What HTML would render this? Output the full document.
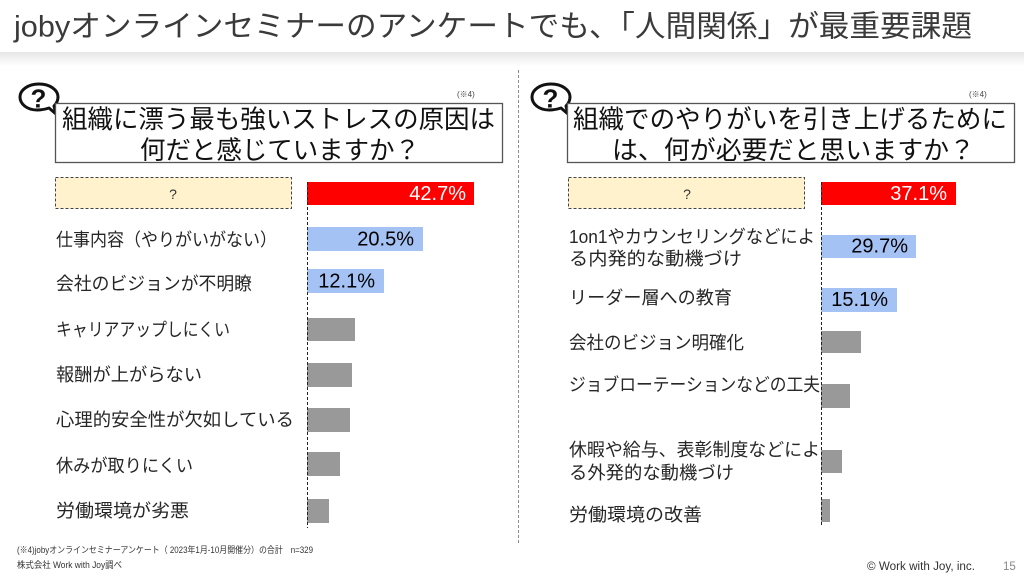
<!DOCTYPE html>
<html><head><meta charset="utf-8">
<style>
html,body{margin:0;padding:0;background:#fff;}
svg{display:block;}
text{font-family:"Liberation Sans","Noto Sans CJK JP",sans-serif;}
</style></head>
<body>
<svg width="1024" height="576" viewBox="0 0 1024 576" xmlns="http://www.w3.org/2000/svg">
<defs>
<linearGradient id="sh" x1="0" y1="0" x2="0" y2="1">
<stop offset="0" stop-color="#e6e6e6"/>
<stop offset="1" stop-color="#ffffff"/>
</linearGradient>
</defs>
<rect width="1024" height="576" fill="#fff"/>
<!-- header -->
<rect x="0" y="52" width="1024" height="14" fill="url(#sh)"/>
<text x="14" y="27" font-size="30" fill="#3a3a3a" dominant-baseline="central" textLength="958" lengthAdjust="spacingAndGlyphs">jobyオンラインセミナーのアンケートでも、「人間関係」が最重要課題</text>

<!-- separator -->
<line x1="518.5" y1="70" x2="518.5" y2="543" stroke="#8c8c8c" stroke-width="1" stroke-dasharray="3,2"/>

<!-- LEFT -->
<g>
<!-- bubble icon -->
<path d="M39,84 C28,84 20,90 20,97 C20,104 27,110 37,110 C42,110 46,109 49,108 L56,114 L54,106 C57,103 58,100 58,97 C58,90 50,84 39,84 Z" fill="#fff" stroke="#111" stroke-width="3" stroke-linejoin="round"/>
<text x="38.5" y="98.5" font-size="26" font-weight="bold" fill="#111" text-anchor="middle" dominant-baseline="central">?</text>
<rect x="55.5" y="103.5" width="447" height="59" fill="#fff" stroke="#555" stroke-width="1.3"/>
<text x="457" y="97" font-size="8" fill="#444">(※4)</text>
<text x="62" y="120" font-size="25.5" fill="#111" dominant-baseline="central" textLength="433" lengthAdjust="spacingAndGlyphs">組織に漂う最も強いストレスの原因は</text>
<text x="140" y="151" font-size="25.5" fill="#111" dominant-baseline="central" textLength="280" lengthAdjust="spacingAndGlyphs">何だと感じていますか？</text>
<rect x="55.5" y="177.5" width="236" height="31" fill="#fff2cc" stroke="#444" stroke-width="1" stroke-dasharray="3,2"/>
<text x="173" y="194" font-size="14" fill="#333" text-anchor="middle" dominant-baseline="central">?</text>

<!-- bars -->
<rect x="307" y="182" width="167" height="23" fill="#ff0000"/>
<rect x="307" y="227" width="116" height="24" fill="#a4c2f4"/>
<rect x="307" y="269" width="77" height="24" fill="#a4c2f4"/>
<rect x="307" y="318" width="48" height="23" fill="#999999"/>
<rect x="307" y="363" width="45" height="24" fill="#999999"/>
<rect x="307" y="408" width="43" height="24" fill="#999999"/>
<rect x="307" y="452" width="33" height="24" fill="#999999"/>
<rect x="307" y="499" width="22" height="24" fill="#999999"/>
<line x1="307.5" y1="182" x2="307.5" y2="528" stroke="#222" stroke-width="1" stroke-dasharray="3,2"/>
<text x="466" y="194" font-size="20" fill="#fff" text-anchor="end" dominant-baseline="central">42.7%</text>
<text x="414" y="239.5" font-size="20" fill="#000" text-anchor="end" dominant-baseline="central">20.5%</text>
<text x="375" y="281.5" font-size="20" fill="#000" text-anchor="end" dominant-baseline="central">12.1%</text>

<g font-size="18" fill="#262626" dominant-baseline="central">
<text x="56" y="240" textLength="221" lengthAdjust="spacingAndGlyphs">仕事内容（やりがいがない）</text>
<text x="56" y="284" textLength="196" lengthAdjust="spacingAndGlyphs">会社のビジョンが不明瞭</text>
<text x="56" y="330" textLength="174" lengthAdjust="spacingAndGlyphs">キャリアアップしにくい</text>
<text x="56" y="375" textLength="146" lengthAdjust="spacingAndGlyphs">報酬が上がらない</text>
<text x="56" y="420" textLength="238" lengthAdjust="spacingAndGlyphs">心理的安全性が欠如している</text>
<text x="56" y="466" textLength="137" lengthAdjust="spacingAndGlyphs">休みが取りにくい</text>
<text x="56" y="511" textLength="133" lengthAdjust="spacingAndGlyphs">労働環境が劣悪</text>
</g>
</g>

<!-- RIGHT -->
<g>
<path d="M551,84 C540,84 532,90 532,97 C532,104 539,110 549,110 C554,110 558,109 561,108 L568,114 L566,106 C569,103 570,100 570,97 C570,90 562,84 551,84 Z" fill="#fff" stroke="#111" stroke-width="3" stroke-linejoin="round"/>
<text x="550.5" y="98.5" font-size="26" font-weight="bold" fill="#111" text-anchor="middle" dominant-baseline="central">?</text>
<rect x="567.5" y="103.5" width="447" height="59" fill="#fff" stroke="#555" stroke-width="1.3"/>
<text x="969" y="97" font-size="8" fill="#444">(※4)</text>
<text x="573" y="120" font-size="25.5" fill="#111" dominant-baseline="central" textLength="434" lengthAdjust="spacingAndGlyphs">組織でのやりがいを引き上げるために</text>
<text x="612" y="151" font-size="25.5" fill="#111" dominant-baseline="central" textLength="363" lengthAdjust="spacingAndGlyphs">は、何が必要だと思いますか？</text>
<rect x="568.5" y="177.5" width="236" height="31" fill="#fff2cc" stroke="#444" stroke-width="1" stroke-dasharray="3,2"/>
<text x="687" y="194" font-size="14" fill="#333" text-anchor="middle" dominant-baseline="central">?</text>

<rect x="821" y="182" width="135" height="23" fill="#ff0000"/>
<rect x="821" y="235" width="95" height="23" fill="#a4c2f4"/>
<rect x="821" y="288" width="76" height="24" fill="#a4c2f4"/>
<rect x="821" y="331" width="40" height="22" fill="#999999"/>
<rect x="821" y="384" width="29" height="24" fill="#999999"/>
<rect x="821" y="450" width="21" height="23" fill="#999999"/>
<rect x="821" y="499" width="9" height="23" fill="#999999"/>
<line x1="821.5" y1="182" x2="821.5" y2="527" stroke="#222" stroke-width="1" stroke-dasharray="3,2"/>
<text x="947" y="194" font-size="20" fill="#fff" text-anchor="end" dominant-baseline="central">37.1%</text>
<text x="908" y="246.5" font-size="20" fill="#000" text-anchor="end" dominant-baseline="central">29.7%</text>
<text x="888" y="300" font-size="20" fill="#000" text-anchor="end" dominant-baseline="central">15.1%</text>

<g font-size="18" fill="#262626" dominant-baseline="central">
<text x="569" y="237" textLength="246" lengthAdjust="spacingAndGlyphs">1on1やカウンセリングなどによ</text>
<text x="569" y="259" textLength="173" lengthAdjust="spacingAndGlyphs">る内発的な動機づけ</text>
<text x="569" y="298" textLength="163" lengthAdjust="spacingAndGlyphs">リーダー層への教育</text>
<text x="569" y="343" textLength="175" lengthAdjust="spacingAndGlyphs">会社のビジョン明確化</text>
<text x="569" y="385" textLength="251" lengthAdjust="spacingAndGlyphs">ジョブローテーションなどの工夫</text>
<text x="569" y="450" textLength="251" lengthAdjust="spacingAndGlyphs">休暇や給与、表彰制度などによ</text>
<text x="569" y="473" textLength="165" lengthAdjust="spacingAndGlyphs">る外発的な動機づけ</text>
<text x="569" y="515" textLength="133" lengthAdjust="spacingAndGlyphs">労働環境の改善</text>
</g>
</g>

<!-- footer -->
<text x="17" y="550" font-size="9" fill="#333" dominant-baseline="central" textLength="296" lengthAdjust="spacingAndGlyphs">(※4)jobyオンラインセミナーアンケート（ 2023年1月-10月開催分）の合計　n=329</text>
<text x="17" y="565" font-size="9" fill="#333" dominant-baseline="central" textLength="105" lengthAdjust="spacingAndGlyphs">株式会社 Work with Joy調べ</text>
<text x="867" y="567" font-size="11.5" fill="#333" dominant-baseline="central" textLength="108" lengthAdjust="spacingAndGlyphs">© Work with Joy, inc.</text>
<text x="1003" y="567" font-size="11.5" fill="#888" dominant-baseline="central">15</text>
</svg>
</body></html>
